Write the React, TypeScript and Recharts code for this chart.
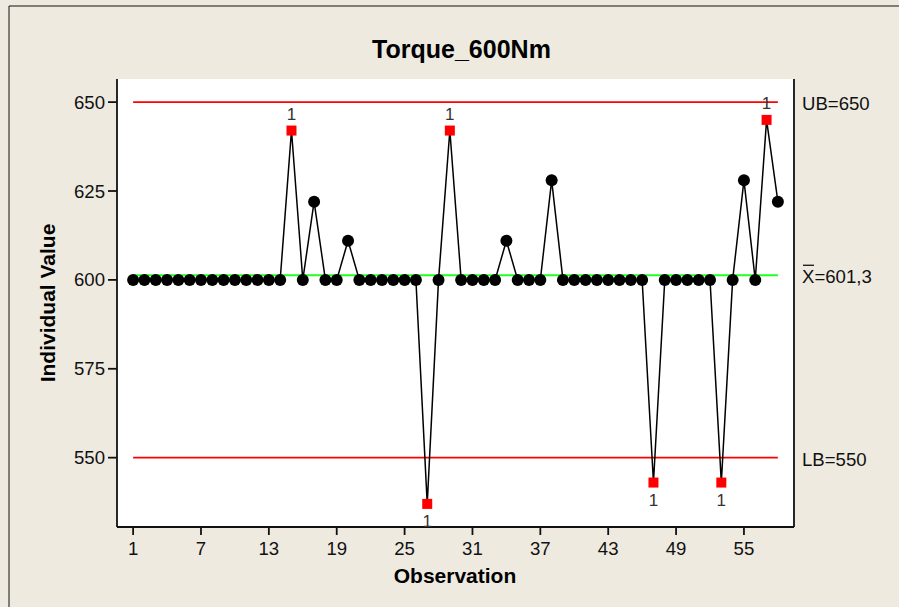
import { LineChart, Line, XAxis, YAxis, ReferenceLine, CartesianGrid } from 'recharts'

// individual torque readings, observation 1..58
const torque = [
  600, 600, 600, 600, 600, 600, 600, 600, 600, 600,
  600, 600, 600, 600, 642, 600, 622, 600, 600, 611,
  600, 600, 600, 600, 600, 600, 537, 600, 642, 600,
  600, 600, 600, 611, 600, 600, 600, 628, 600, 600,
  600, 600, 600, 600, 600, 600, 543, 600, 600, 600,
  600, 600, 543, 600, 628, 600, 645, 622,
]
// observations failing test 1
const flagged = [15, 27, 29, 47, 53, 57]
const xTicks = [1, 7, 13, 19, 25, 31, 37, 43, 49, 55]
const yTicks = [550, 575, 600, 625, 650]
const upperBound = 650
const lowerBound = 550
const mean = 601.3

const data = torque.map((value, i) => ({ obs: i + 1, value }))
const lastObs = data.length

const FONT = '"Liberation Sans", Arial, sans-serif'
const BG = '#EEEAE0'
const xDomain = [-0.425, 59.425]
const yDomain = [530.5, 656.5]

function PointMark(props: any) {
  const { cx, cy, payload, index } = props
  if (cx == null || cy == null) return <g key={index} />
  if (flagged.includes(payload.obs)) {
    const above = payload.value > mean
    return (
      <g key={index}>
        <rect x={cx - 5} y={cy - 5} width={10} height={10} fill="#ff0000" />
        <text
          x={cx}
          y={above ? cy - 11 : cy + 23}
          textAnchor="middle"
          fontSize={17}
          fontFamily={FONT}
          fill="#333"
        >
          1
        </text>
      </g>
    )
  }
  return <circle key={index} cx={cx} cy={cy} r={6} fill="#000" />
}

function LimitTick(props: any) {
  const { x, y, payload } = props
  const v = payload.value
  const base = y + 8
  if (v === mean) {
    return (
      <g>
        <text x={x} y={base} fontSize={18.6} fontFamily={FONT} fill="#111">
          X=601,3
        </text>
        <line x1={x + 1} x2={x + 12} y1={base - 18} y2={base - 18} stroke="#111" strokeWidth={1.3} />
      </g>
    )
  }
  const label = v === upperBound ? `UB=${upperBound}` : `LB=${lowerBound}`
  return (
    <text x={x} y={base} fontSize={18.6} fontFamily={FONT} fill="#111">
      {label}
    </text>
  )
}

export default function App() {
  const tickStyle = { fontSize: 18.6, fontFamily: FONT, fill: '#111' }
  return (
    <div style={{ position: 'absolute', left: 0, top: 0, width: 899, height: 607, background: BG, overflow: 'hidden' }}>
      <LineChart
        width={899}
        height={607}
        data={data}
        margin={{ top: 79, right: 0, bottom: 49, left: 0 }}
      >
        <CartesianGrid horizontal={false} vertical={false} fill="#fff" />
        <XAxis
          dataKey="obs"
          type="number"
          domain={xDomain}
          ticks={xTicks}
          height={31}
          tickSize={8}
          tickMargin={7}
          stroke="#111"
          strokeWidth={1.8}
          tick={tickStyle}
          allowDataOverflow
        />
        <XAxis
          xAxisId="top"
          orientation="top"
          dataKey="obs"
          type="number"
          domain={xDomain}
          height={0}
          tick={false}
          tickLine={false}
          stroke="#111"
          strokeWidth={1.8}
          allowDataOverflow
        />
        <YAxis
          type="number"
          domain={yDomain}
          ticks={yTicks}
          width={117}
          tickSize={9}
          tickMargin={3}
          stroke="#111"
          strokeWidth={1.8}
          tick={tickStyle}
          allowDataOverflow
        />
        <YAxis
          yAxisId="right"
          orientation="right"
          type="number"
          domain={yDomain}
          ticks={[lowerBound, mean, upperBound]}
          width={105}
          tickSize={0}
          tickLine={false}
          tickMargin={8}
          stroke="#111"
          strokeWidth={1.8}
          tick={<LimitTick />}
          allowDataOverflow
        />
        <ReferenceLine
          segment={[{ x: 1, y: upperBound }, { x: lastObs, y: upperBound }]}
          stroke="#ff0000"
          strokeWidth={1.6}
        />
        <ReferenceLine
          segment={[{ x: 1, y: lowerBound }, { x: lastObs, y: lowerBound }]}
          stroke="#ff0000"
          strokeWidth={1.6}
        />
        <ReferenceLine
          segment={[{ x: 1, y: mean }, { x: lastObs, y: mean }]}
          stroke="#22ff22"
          strokeWidth={2}
        />
        <Line
          dataKey="value"
          stroke="#000"
          strokeWidth={1.5}
          dot={PointMark}
          activeDot={false}
          isAnimationActive={false}
        />
      </LineChart>
      <svg
        width={899}
        height={607}
        style={{ position: 'absolute', left: 0, top: 0, pointerEvents: 'none' }}
      >
        <line x1={9} y1={6} x2={899} y2={6} stroke="#111" strokeWidth={1} />
        <line x1={9} y1={6} x2={9} y2={607} stroke="#111" strokeWidth={1} />
        <text x={461.5} y={58} textAnchor="middle" fontSize={25} fontWeight="bold" fontFamily={FONT} fill="#000">
          Torque_600Nm
        </text>
        <text x={455} y={583} textAnchor="middle" fontSize={21} fontWeight="bold" fontFamily={FONT} fill="#000">
          Observation
        </text>
        <text
          transform="translate(55,303) rotate(-90)"
          textAnchor="middle"
          fontSize={21}
          fontWeight="bold"
          fontFamily={FONT}
          fill="#000"
        >
          Individual Value
        </text>
      </svg>
    </div>
  )
}
